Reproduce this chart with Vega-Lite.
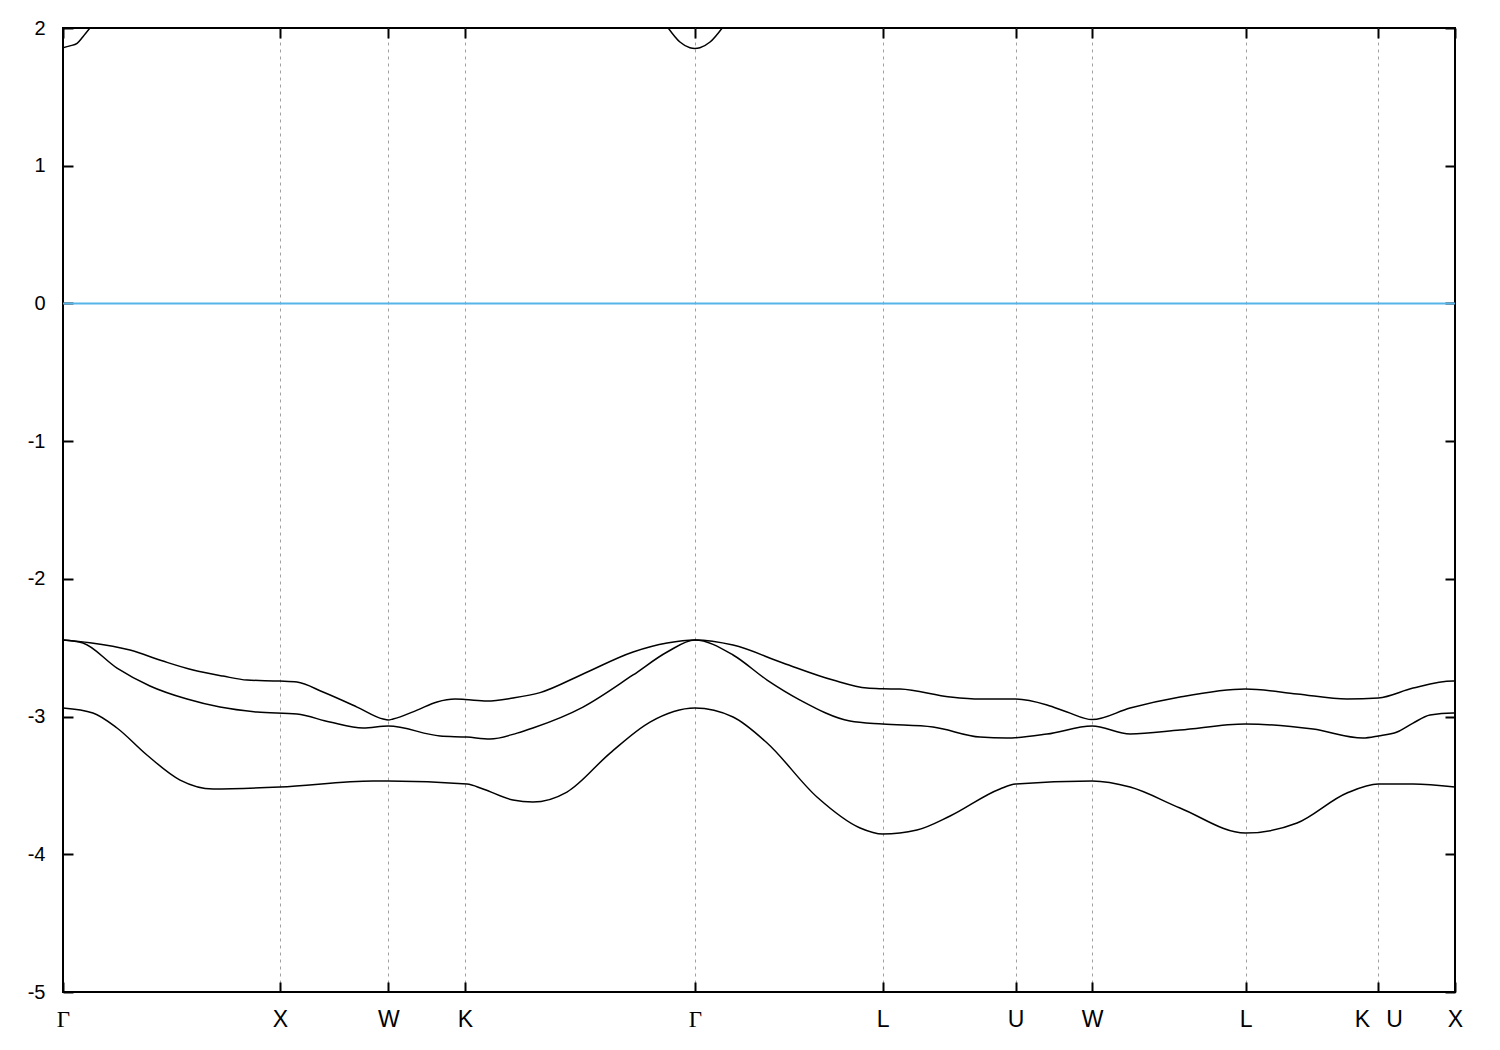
{
  "$schema": "https://vega.github.io/schema/vega-lite/v6.json",
  "autosize": {"type": "none"},
  "padding": {"left": 63, "top": 28, "right": 45, "bottom": 58},
  "width": 1392,
  "height": 964,
  "background": "white",
  "config": {
    "font": "Liberation Sans",
    "view": {"stroke": "#000000", "strokeWidth": 2},
    "axis": {"domain": false, "labelFontSize": 20, "labelColor": "#000000", "tickColor": "#000000", "tickWidth": 2, "tickSize": -10, "title": null, "labelFlush": false, "labelOverlap": false, "labelBound": false}
  },
  "datasets": {
    "bands": [
      {"band": "v1", "k": 0, "E": -2.444},
      {"band": "v1", "k": 0.124, "E": -2.464},
      {"band": "v1", "k": 0.309, "E": -2.517},
      {"band": "v1", "k": 0.461, "E": -2.597},
      {"band": "v1", "k": 0.6, "E": -2.662},
      {"band": "v1", "k": 0.738, "E": -2.706},
      {"band": "v1", "k": 0.849, "E": -2.735},
      {"band": "v1", "k": 1.0, "E": -2.742},
      {"band": "v1", "k": 1.079, "E": -2.749},
      {"band": "v1", "k": 1.199, "E": -2.822},
      {"band": "v1", "k": 1.356, "E": -2.931},
      {"band": "v1", "k": 1.476, "E": -3.018},
      {"band": "v1", "k": 1.5, "E": -3.025},
      {"band": "v1", "k": 1.522, "E": -3.018},
      {"band": "v1", "k": 1.633, "E": -2.953},
      {"band": "v1", "k": 1.725, "E": -2.894},
      {"band": "v1", "k": 1.808, "E": -2.873},
      {"band": "v1", "k": 1.854, "E": -2.876},
      {"band": "v1", "k": 1.955, "E": -2.887},
      {"band": "v1", "k": 2.075, "E": -2.865},
      {"band": "v1", "k": 2.2, "E": -2.826},
      {"band": "v1", "k": 2.398, "E": -2.691},
      {"band": "v1", "k": 2.629, "E": -2.531},
      {"band": "v1", "k": 2.786, "E": -2.466},
      {"band": "v1", "k": 2.914, "E": -2.444},
      {"band": "v1", "k": 3.09, "E": -2.481},
      {"band": "v1", "k": 3.32, "E": -2.611},
      {"band": "v1", "k": 3.551, "E": -2.735},
      {"band": "v1", "k": 3.708, "E": -2.793},
      {"band": "v1", "k": 3.78, "E": -2.798},
      {"band": "v1", "k": 3.86, "E": -2.8},
      {"band": "v1", "k": 4.091, "E": -2.858},
      {"band": "v1", "k": 4.229, "E": -2.873},
      {"band": "v1", "k": 4.393, "E": -2.873},
      {"band": "v1", "k": 4.538, "E": -2.916},
      {"band": "v1", "k": 4.63, "E": -2.967},
      {"band": "v1", "k": 4.746, "E": -3.022},
      {"band": "v1", "k": 4.921, "E": -2.938},
      {"band": "v1", "k": 5.151, "E": -2.858},
      {"band": "v1", "k": 5.453, "E": -2.8},
      {"band": "v1", "k": 5.691, "E": -2.836},
      {"band": "v1", "k": 5.921, "E": -2.873},
      {"band": "v1", "k": 6.066, "E": -2.865},
      {"band": "v1", "k": 6.226, "E": -2.793},
      {"band": "v1", "k": 6.41, "E": -2.742},
      {"band": "v1", "k": 6.4193, "E": -2.742},

      {"band": "v2", "k": 0, "E": -2.444},
      {"band": "v2", "k": 0.092, "E": -2.466},
      {"band": "v2", "k": 0.249, "E": -2.648},
      {"band": "v2", "k": 0.401, "E": -2.778},
      {"band": "v2", "k": 0.572, "E": -2.873},
      {"band": "v2", "k": 0.724, "E": -2.931},
      {"band": "v2", "k": 0.895, "E": -2.967},
      {"band": "v2", "k": 1.079, "E": -2.982},
      {"band": "v2", "k": 1.231, "E": -3.04},
      {"band": "v2", "k": 1.384, "E": -3.083},
      {"band": "v2", "k": 1.5, "E": -3.069},
      {"band": "v2", "k": 1.739, "E": -3.141},
      {"band": "v2", "k": 1.863, "E": -3.149},
      {"band": "v2", "k": 1.969, "E": -3.163},
      {"band": "v2", "k": 2.094, "E": -3.12},
      {"band": "v2", "k": 2.167, "E": -3.083},
      {"band": "v2", "k": 2.398, "E": -2.931},
      {"band": "v2", "k": 2.629, "E": -2.698},
      {"band": "v2", "k": 2.786, "E": -2.531},
      {"band": "v2", "k": 2.914, "E": -2.444},
      {"band": "v2", "k": 3.09, "E": -2.553},
      {"band": "v2", "k": 3.247, "E": -2.735},
      {"band": "v2", "k": 3.399, "E": -2.88},
      {"band": "v2", "k": 3.629, "E": -3.032},
      {"band": "v2", "k": 3.78, "E": -3.054},
      {"band": "v2", "k": 4.012, "E": -3.076},
      {"band": "v2", "k": 4.229, "E": -3.149},
      {"band": "v2", "k": 4.353, "E": -3.156},
      {"band": "v2", "k": 4.538, "E": -3.127},
      {"band": "v2", "k": 4.746, "E": -3.069},
      {"band": "v2", "k": 4.921, "E": -3.127},
      {"band": "v2", "k": 5.151, "E": -3.098},
      {"band": "v2", "k": 5.453, "E": -3.054},
      {"band": "v2", "k": 5.765, "E": -3.091},
      {"band": "v2", "k": 5.995, "E": -3.156},
      {"band": "v2", "k": 6.066, "E": -3.141},
      {"band": "v2", "k": 6.152, "E": -3.112},
      {"band": "v2", "k": 6.226, "E": -3.047},
      {"band": "v2", "k": 6.304, "E": -2.989},
      {"band": "v2", "k": 6.41, "E": -2.974},
      {"band": "v2", "k": 6.4193, "E": -2.974},

      {"band": "v3", "k": 0, "E": -2.938},
      {"band": "v3", "k": 0.138, "E": -2.974},
      {"band": "v3", "k": 0.249, "E": -3.083},
      {"band": "v3", "k": 0.387, "E": -3.279},
      {"band": "v3", "k": 0.54, "E": -3.461},
      {"band": "v3", "k": 0.692, "E": -3.526},
      {"band": "v3", "k": 1.0, "E": -3.512},
      {"band": "v3", "k": 1.43, "E": -3.468},
      {"band": "v3", "k": 1.5, "E": -3.468},
      {"band": "v3", "k": 1.863, "E": -3.49},
      {"band": "v3", "k": 1.937, "E": -3.526},
      {"band": "v3", "k": 2.075, "E": -3.606},
      {"band": "v3", "k": 2.167, "E": -3.621},
      {"band": "v3", "k": 2.324, "E": -3.548},
      {"band": "v3", "k": 2.523, "E": -3.265},
      {"band": "v3", "k": 2.707, "E": -3.04},
      {"band": "v3", "k": 2.914, "E": -2.938},
      {"band": "v3", "k": 3.09, "E": -3.003},
      {"band": "v3", "k": 3.247, "E": -3.192},
      {"band": "v3", "k": 3.477, "E": -3.584},
      {"band": "v3", "k": 3.676, "E": -3.809},
      {"band": "v3", "k": 3.78, "E": -3.853},
      {"band": "v3", "k": 3.938, "E": -3.824},
      {"band": "v3", "k": 4.091, "E": -3.722},
      {"band": "v3", "k": 4.321, "E": -3.526},
      {"band": "v3", "k": 4.393, "E": -3.49},
      {"band": "v3", "k": 4.746, "E": -3.468},
      {"band": "v3", "k": 4.921, "E": -3.512},
      {"band": "v3", "k": 5.151, "E": -3.664},
      {"band": "v3", "k": 5.453, "E": -3.846},
      {"band": "v3", "k": 5.691, "E": -3.773},
      {"band": "v3", "k": 5.921, "E": -3.555},
      {"band": "v3", "k": 6.066, "E": -3.49},
      {"band": "v3", "k": 6.226, "E": -3.49},
      {"band": "v3", "k": 6.4193, "E": -3.512},

      {"band": "c1", "k": 0, "E": 1.857},
      {"band": "c1", "k": 0.032, "E": 1.87},
      {"band": "c1", "k": 0.065, "E": 1.889},
      {"band": "c1", "k": 0.092, "E": 1.937},
      {"band": "c1", "k": 0.124, "E": 2.0},

      {"band": "c2", "k": 2.791, "E": 2.0},
      {"band": "c2", "k": 2.845, "E": 1.898},
      {"band": "c2", "k": 2.891, "E": 1.857},
      {"band": "c2", "k": 2.914, "E": 1.852},
      {"band": "c2", "k": 2.937, "E": 1.857},
      {"band": "c2", "k": 2.984, "E": 1.898},
      {"band": "c2", "k": 3.04, "E": 2.0}
    ]
  },
  "layer": [
    {
      "data": {"values": [{"y": 0, "x1": 0, "x2": 6.4193}]},
      "mark": {"type": "rule", "color": "#56B4E9", "strokeWidth": 2},
      "encoding": {
        "x": {"field": "x1", "type": "quantitative", "axis": {"orient": "top", "labels": false, "grid": false, "values": [0, 1, 1.5, 1.8536, 2.9142, 3.7802, 4.3926, 4.7462, 5.4533, 6.0657, 6.4193]}},
        "x2": {"field": "x2"},
        "y": {"field": "y", "type": "quantitative", "axis": {"orient": "right", "labels": false, "grid": false, "values": [-5, -4, -3, -2, -1, 0, 1, 2]}}
      }
    },
    {
      "data": {"name": "bands"},
      "mark": {"type": "line", "color": "#000000", "strokeWidth": 1.5, "interpolate": "monotone", "clip": true},
      "encoding": {
        "x": {
          "field": "k", "type": "quantitative",
          "scale": {"domain": [0, 6.4193], "nice": false, "zero": false},
          "axis": {
            "orient": "bottom",
            "values": [0, 1, 1.5, 1.8536, 2.9142, 3.7802, 4.3926, 4.7462, 5.4533, 6.0657, 6.4193],
            "labelExpr": "datum.value < 0.5 ? 'Γ' : datum.value < 1.2 ? 'X' : datum.value < 1.7 ? 'W' : datum.value < 2.5 ? 'K' : datum.value < 3.3 ? 'Γ' : datum.value < 4.0 ? 'L' : datum.value < 4.6 ? 'U' : datum.value < 5.0 ? 'W' : datum.value < 5.8 ? 'L' : datum.value < 6.2 ? 'K\u2002\u2009U' : 'X'",
            "labelFont": {"condition": {"test": "datum.value < 0.5 || (datum.value > 2.5 && datum.value < 3.3)", "value": "Liberation Serif"}, "value": "Liberation Sans"},
            "labelFontSize": 23,
            "labelPadding": 26,
            "grid": true,
            "gridColor": "#a0a0a0",
            "gridDash": [3, 4],
            "gridWidth": 1,
            "gridOpacity": {"condition": {"test": "datum.value < 0.01 || datum.value > 6.4", "value": 0}, "value": 1}
          }
        },
        "y": {
          "field": "E", "type": "quantitative",
          "scale": {"domain": [-5, 2], "nice": false, "zero": false},
          "axis": {"orient": "left", "values": [-5, -4, -3, -2, -1, 0, 1, 2], "labelExpr": "'' + datum.value", "labelFontSize": 20, "labelPadding": 28, "grid": false}
        },
        "detail": {"field": "band", "type": "nominal"}
      }
    }
  ],
  "resolve": {"axis": {"x": "independent", "y": "independent"}}
}
